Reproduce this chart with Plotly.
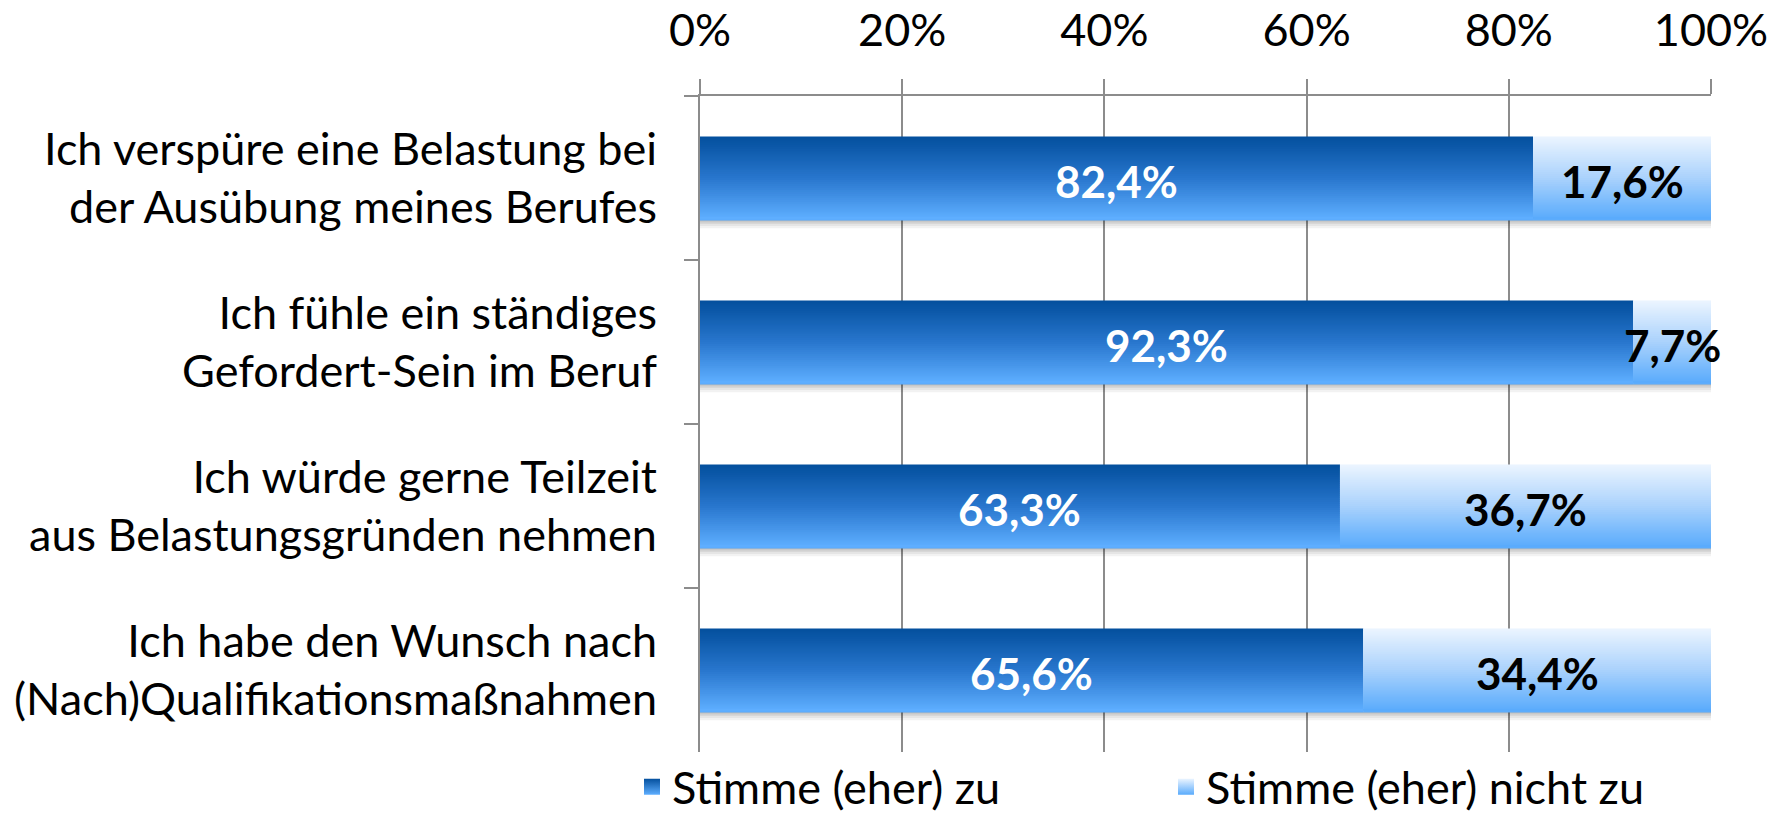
import plotly.graph_objects as go

categories = [
    "Ich verspüre eine Belastung bei<br>der Ausübung meines Berufes",
    "Ich fühle ein ständiges<br>Gefordert-Sein im Beruf",
    "Ich würde gerne Teilzeit<br>aus Belastungsgründen nehmen",
    "Ich habe den Wunsch nach<br>(Nach)Qualifikationsmaßnahmen",
]
agree = [82.4, 92.3, 63.3, 65.6]
disagree = [17.6, 7.7, 36.7, 34.4]
series_names = ["Stimme (eher) zu", "Stimme (eher) nicht zu"]
x_ticks = [0, 20, 40, 60, 80, 100]
x_ticktext = ["0%", "20%", "40%", "60%", "80%", "100%"]

FONT = "Lato, 'Open Sans', sans-serif"
GRID = "#8c8c8c"
FS = 45

W, H = 1769, 818
ML, MR, MT, MB = 700, 58, 96, 66
plot_h = H - MT - MB
px_per_unit = plot_h / len(categories)

BAR_W = 0.505
N = 42

grad1 = [(4, 80, 158), (40, 118, 205), (94, 174, 255)]
grad2 = [(234, 244, 255), (170, 210, 252), (90, 171, 252)]


def lerp_stops(stops, t):
    seg = t * (len(stops) - 1)
    i = min(int(seg), len(stops) - 2)
    f = seg - i
    a, b = stops[i], stops[i + 1]
    return "rgb(%d,%d,%d)" % tuple(round(a[k] + (b[k] - a[k]) * f) for k in range(3))


fig = go.Figure()

totals = [a + d for a, d in zip(agree, disagree)]

# shadow under bars
shadow_alphas = [0.28, 0.18, 0.10, 0.05]
sh_h = 2.2 / px_per_unit
for j, al in enumerate(shadow_alphas):
    fig.add_trace(go.Bar(
        y=categories, x=totals, base=[0] * len(categories), orientation="h",
        width=sh_h, offset=BAR_W / 2 + j * sh_h,
        marker=dict(color="rgba(0,0,0,%.2f)" % al, line=dict(width=0)),
        showlegend=False, hoverinfo="skip",
    ))

slice_w = BAR_W / N
for vals, bases, stops in [(agree, [0] * len(agree), grad1), (disagree, agree, grad2)]:
    for i in range(N):
        t = i / (N - 1)
        w = slice_w * 2.5 if i < N - 1 else slice_w
        fig.add_trace(go.Bar(
            y=categories, x=vals, base=bases, orientation="h",
            width=w, offset=-BAR_W / 2 + i * slice_w,
            marker=dict(color=lerp_stops(stops, t), line=dict(width=0)),
            showlegend=False, hoverinfo="skip",
        ))

# value labels
annotations = []
for cat, a, d in zip(categories, agree, disagree):
    annotations.append(dict(
        x=a / 2, y=cat, xref="x", yref="y", showarrow=False, yshift=-3,
        text=("%.1f%%" % a).replace(".", ","),
        font=dict(family=FONT, size=44, color="white", weight="bold"),
    ))
    annotations.append(dict(
        x=a + d / 2, y=cat, xref="x", yref="y", showarrow=False, yshift=-3,
        text=("%.1f%%" % d).replace(".", ","),
        font=dict(family=FONT, size=44, color="black", weight="bold"),
    ))

# legend entries
for name, stops in zip(series_names, [grad1, grad2]):
    fig.add_trace(go.Scatter(
        x=[None], y=[None], mode="markers", name=name,
        marker=dict(symbol="square", size=16, color=lerp_stops(stops, 0),
                    gradient=dict(type="vertical", color=lerp_stops(stops, 1)),
                    line=dict(width=0)),
    ))

fig.update_layout(
    width=W, height=H,
    margin=dict(l=ML, r=MR, t=MT, b=MB, autoexpand=False),
    paper_bgcolor="white", plot_bgcolor="white",
    barmode="overlay",
    font=dict(family=FONT, size=FS, color="black"),
    showlegend=True,
    legend=dict(
        orientation="h", x=(632 - ML) / (W - ML - MR), xanchor="left",
        y=-(787 - (H - MB)) / plot_h, yanchor="middle",
        entrywidth=489, entrywidthmode="pixels",
        font=dict(family=FONT, size=FS, color="black"),
        itemsizing="trace", bgcolor="rgba(0,0,0,0)",
    ),
    annotations=annotations,
    hovermode=False,
)

fig.update_xaxes(
    side="top", range=[0, 100], tickmode="array", tickvals=x_ticks, ticktext=x_ticktext,
    showgrid=True, gridcolor=GRID, gridwidth=2,
    showline=True, linecolor=GRID, linewidth=2,
    ticks="outside", ticklen=15, tickwidth=2, tickcolor=GRID,
    ticklabelstandoff=15, automargin=False,
    zeroline=False, fixedrange=True,
    tickfont=dict(family=FONT, size=FS, color="black"),
)
fig.update_yaxes(
    type="category", categoryorder="array", categoryarray=categories,
    range=[len(categories) - 0.5, -0.5],
    showgrid=False, showline=True, linecolor=GRID, linewidth=2,
    ticks="outside", ticklen=14, tickwidth=2, tickcolor=GRID,
    tickson="boundaries", ticklabelstandoff=32, automargin=False,
    zeroline=False, fixedrange=True,
    tickfont=dict(family=FONT, size=FS, color="black"),
)

fig.write_html("out.html", config={"displayModeBar": False})
